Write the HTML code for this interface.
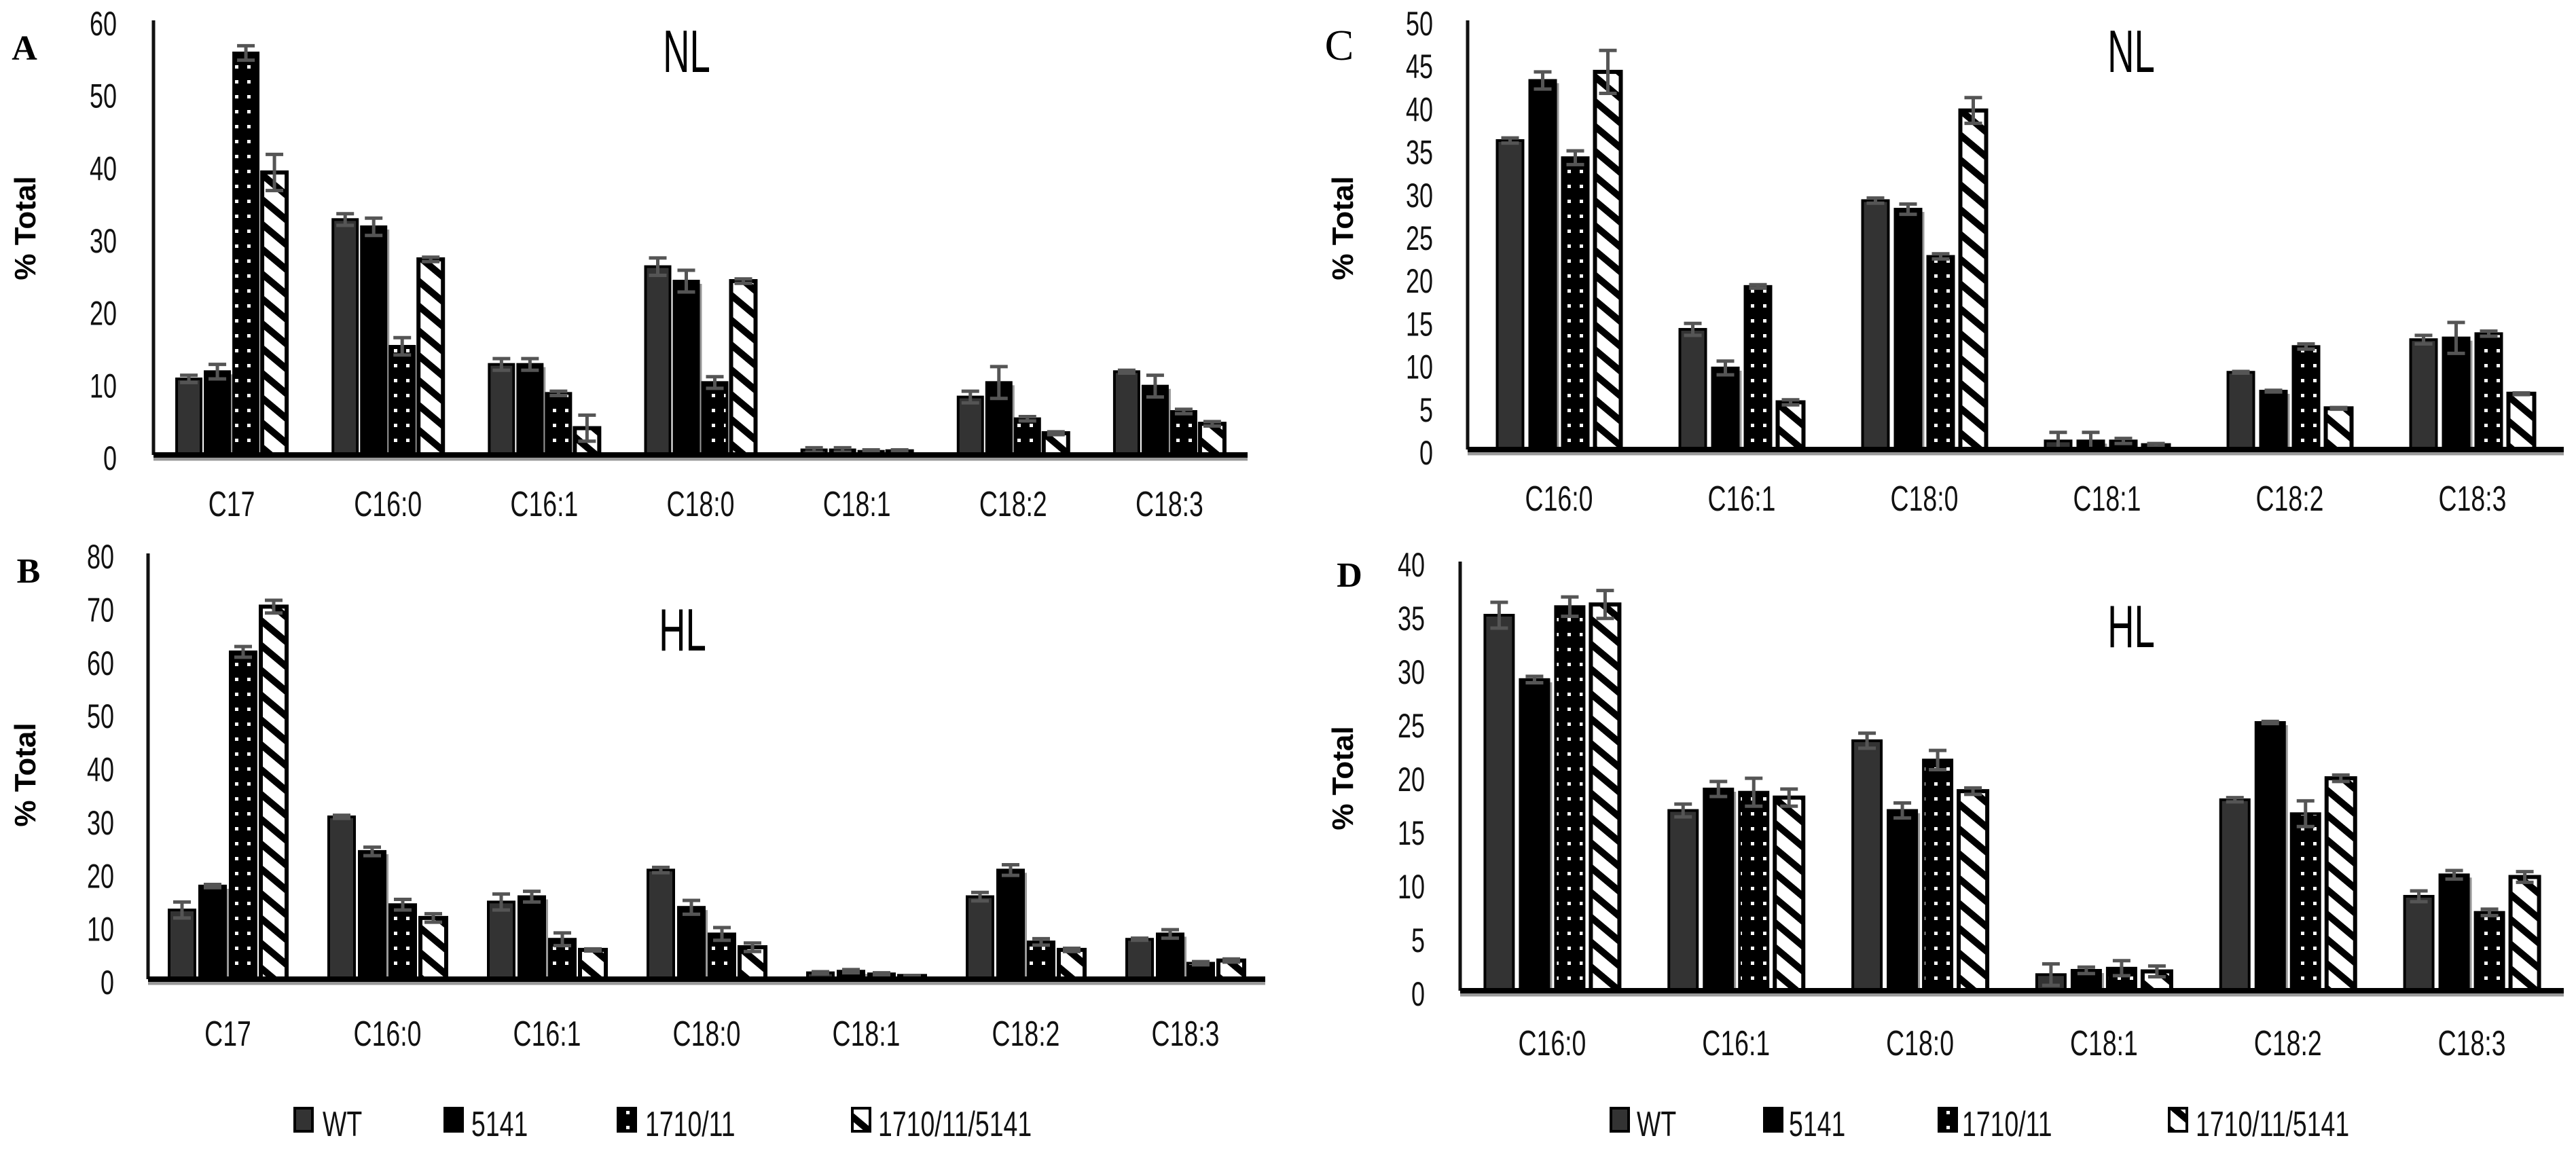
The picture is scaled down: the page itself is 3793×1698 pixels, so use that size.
<!DOCTYPE html>
<html><head><meta charset="utf-8">
<style>
html,body{margin:0;padding:0;background:#fff;}
svg{display:block;}
</style></head>
<body>
<svg id="fig" width="3793" height="1698" viewBox="0 0 3793 1698" xmlns="http://www.w3.org/2000/svg">
<defs>
<pattern id="dots" patternUnits="userSpaceOnUse" width="18" height="22">
<rect width="18" height="22" fill="#000"/>
<rect x="4" y="8" width="5" height="5" fill="#fff"/>
</pattern>
<pattern id="hatch" patternUnits="userSpaceOnUse" width="28" height="28" patternTransform="rotate(40)">
<rect width="28" height="28" fill="#fff"/>
<rect width="28" height="10" fill="#000"/>
</pattern>
</defs>
</svg>
<script>
const series = ['WT','5141','1710/11','1710/11/5141'];
const catsAB = ['C17','C16:0','C16:1','C18:0','C18:1','C18:2','C18:3'];
const catsCD = ['C16:0','C16:1','C18:0','C18:1','C18:2','C18:3'];
const valsA = [[10.5,11.5,55.5,39],[32.5,31.5,15,27],[12.5,12.5,8.5,3.7],[26,24,10,24],[0.7,0.7,0.5,0.5],[8,10,5,3],[11.5,9.5,6,4.3]];
const errA = [[0.5,1,1,2.5],[0.8,1.2,1.2,0.3],[0.8,0.8,0.3,1.8],[1.2,1.5,0.8,0.3],[0.3,0.3,0.2,0.2],[0.8,2.2,0.3,0.2],[0.2,1.5,0.3,0.3]];
const valsB = [[13,17.5,61.5,70],[30.5,24,14,11.5],[14.5,15.5,7.5,5.5],[20.5,13.5,8.5,6],[1.2,1.5,1,0.6],[15.5,20.5,7,5.5],[7.5,8.5,3,3.5]];
const errB = [[1.5,0.3,1,1.2],[0.3,0.8,1,0.8],[1.5,1,1.2,0.2],[0.5,1.3,1.2,0.8],[0.2,0.3,0.2,0.1],[0.8,1,0.6,0.3],[0.2,0.8,0.3,0.3]];
const valsC = [[36,43,34,44],[14,9.5,19,5.5],[29,28,22.5,39.5],[1,1,1,0.5],[9,6.8,12,4.8],[12.8,13,13.5,6.5]];
const errC = [[0.3,1,0.8,2.5],[0.7,0.8,0.2,0.3],[0.3,0.6,0.3,1.5],[1,1,0.3,0.2],[0.1,0.1,0.3,0.1],[0.5,1.8,0.3,0.1]];
const valsD = [[35,29,35.8,36],[16.8,18.8,18.5,18],[23.3,16.8,21.5,18.6],[1.5,1.9,2.1,1.8],[17.8,25,16.5,19.8],[8.8,10.8,7.3,10.6]];
const errD = [[1.2,0.3,0.9,1.3],[0.6,0.7,1.3,0.8],[0.7,0.7,0.9,0.3],[1,0.3,0.7,0.5],[0.2,0.1,1.2,0.3],[0.5,0.4,0.3,0.5]];
const ticksA = [0,10,20,30,40,50,60];
const ticksB = [0,10,20,30,40,50,60,70,80];
const ticksC = [0,5,10,15,20,25,30,35,40,45,50];
const ticksD = [0,5,10,15,20,25,30,35,40];

const NS='http://www.w3.org/2000/svg';
const svg=document.getElementById('fig');
function mk(tag,attrs,parent){const e=document.createElementNS(NS,tag);for(const k in attrs)e.setAttribute(k,attrs[k]);(parent||svg).appendChild(e);return e;}
const SANS='font-family:"Liberation Sans",sans-serif;';
function ntext(parent,x,y,str,size,anchor,sx){
  const t=mk('text',{x:0,y:0,'text-anchor':anchor,'font-size':size,fill:'#111',style:SANS,transform:`translate(${x},${y}) scale(${sx||0.74},1)`},parent);
  t.textContent=str;
  return t;
}
const fills=['#333','#000','url(#dots)','url(#hatch)'];

function panel(p){
  const g=mk('g',{});
  
  
  const ymax=p.ticks[p.ticks.length-1];
  const ys=v=>p.y0-(p.y0-p.yTop)*v/ymax;
  const band=(p.x1-p.x0)/p.cats.length;
  const xc=i=>p.x0+band*(i+0.5);
  p.ticks.forEach(t=>{
    const tx=ntext(g,p.tickX,ys(t)+22,String(t),50,'end',0.72);
    
    
  });
  p.vals.forEach((row,i)=>{
    row.forEach((v,s)=>{
      const x=xc(i)-(p.step*3+p.bw)/2+s*p.step;
      const y=ys(v);
      const h=p.y0-y;
      if(s===1){const sh=mk('rect',{x:x+p.bw,y:y+4,width:5,height:Math.max(h-4,0),fill:'#999'},g);
        
        }
      const r=mk('rect',{x:x,y:y,width:p.bw,height:h,fill:fills[s],stroke:'#000','stroke-width':s===3?6:4},g);
      
      
      const e=p.err[i][s];
      const ey=ys(v+e), ey2=ys(Math.max(v-e,0));
      const cx=x+p.bw/2;
      const eb=mk('path',{d:`M${cx} ${ey}V${ey2}M${cx-13} ${ey}H${cx+13}M${cx-13} ${ey2}H${cx+13}`,stroke:'#555','stroke-width':5,fill:'none'},g);
      
      
    });
    const cl=ntext(g,xc(i),p.catY,p.cats[i],52,'middle',0.72);
    
    
  });
  const ya=mk('line',{x1:p.x0,y1:p.yTop,x2:p.x0,y2:p.y0,stroke:'#111','stroke-width':5},g);
  
  
  const xs=mk('line',{x1:p.x0,y1:p.y0+6,x2:p.x1,y2:p.y0+6,stroke:'#999','stroke-width':5},g);
  
  
  const xa=mk('line',{x1:p.x0,y1:p.y0,x2:p.x1,y2:p.y0,stroke:'#000','stroke-width':8},g);
  
  
  const t=ntext(g,p.titleX,p.titleY,p.title,88,'middle',0.62);
  t.setAttribute('fill','#000');
  
  
  const l=mk('text',{x:p.letX,y:p.letY,'text-anchor':'middle','font-size':p.letBold?52:64,'font-weight':p.letBold?'bold':'normal',style:'font-family:"Liberation Serif",serif;',fill:'#000'},g);
  l.textContent=p.id;
  
  
  const yt=mk('text',{x:0,y:0,'text-anchor':'middle','font-size':44,'font-weight':'bold',style:SANS,fill:'#000',transform:`translate(${p.ytX},${p.ytY}) rotate(-90)`},g);
  yt.textContent='% Total';
  
  
}
panel({id:'A',cats:catsAB,vals:valsA,err:errA,ticks:ticksA,x0:226,x1:1837,y0:670,yTop:30,bw:36,step:42,tickX:172,catY:760,title:'NL',titleX:1011,titleY:106,letX:36,letY:88,letBold:true,ytX:52,ytY:336});
panel({id:'B',cats:catsAB,vals:valsB,err:errB,ticks:ticksB,x0:218,x1:1863,y0:1442,yTop:815,bw:38,step:45,tickX:168,catY:1540,title:'HL',titleX:1005,titleY:958,letX:42,letY:858,letBold:true,ytX:52,ytY:1141});
panel({id:'C',cats:catsCD,vals:valsC,err:errC,ticks:ticksC,x0:2161,x1:3775,y0:662,yTop:30,bw:38,step:48,tickX:2110,catY:752,title:'NL',titleX:3138,titleY:106,letX:1972,letY:88,letBold:false,ytX:1992,ytY:336});
panel({id:'D',cats:catsCD,vals:valsD,err:errD,ticks:ticksD,x0:2150,x1:3775,y0:1459,yTop:827,bw:42,step:52,tickX:2098,catY:1554,title:'HL',titleX:3138,titleY:953,letX:1987,letY:864,letBold:true,ytX:1992,ytY:1146});

function legend(items){
  items.forEach((it,s)=>{
    const sw=mk('rect',{x:it.sx,y:1632,width:26,height:34,fill:fills[s],stroke:'#000','stroke-width':4});
    
    
    const tx=ntext(svg,it.tx,1673,series[s],52,'start',0.72);
    
    
  });
}
legend([{sx:434,tx:475},{sx:655,tx:694},{sx:910,tx:950},{sx:1255,tx:1293}]);
legend([{sx:2372,tx:2410},{sx:2598,tx:2634},{sx:2855,tx:2889},{sx:3194,tx:3233}]);
</script>
</body></html>
